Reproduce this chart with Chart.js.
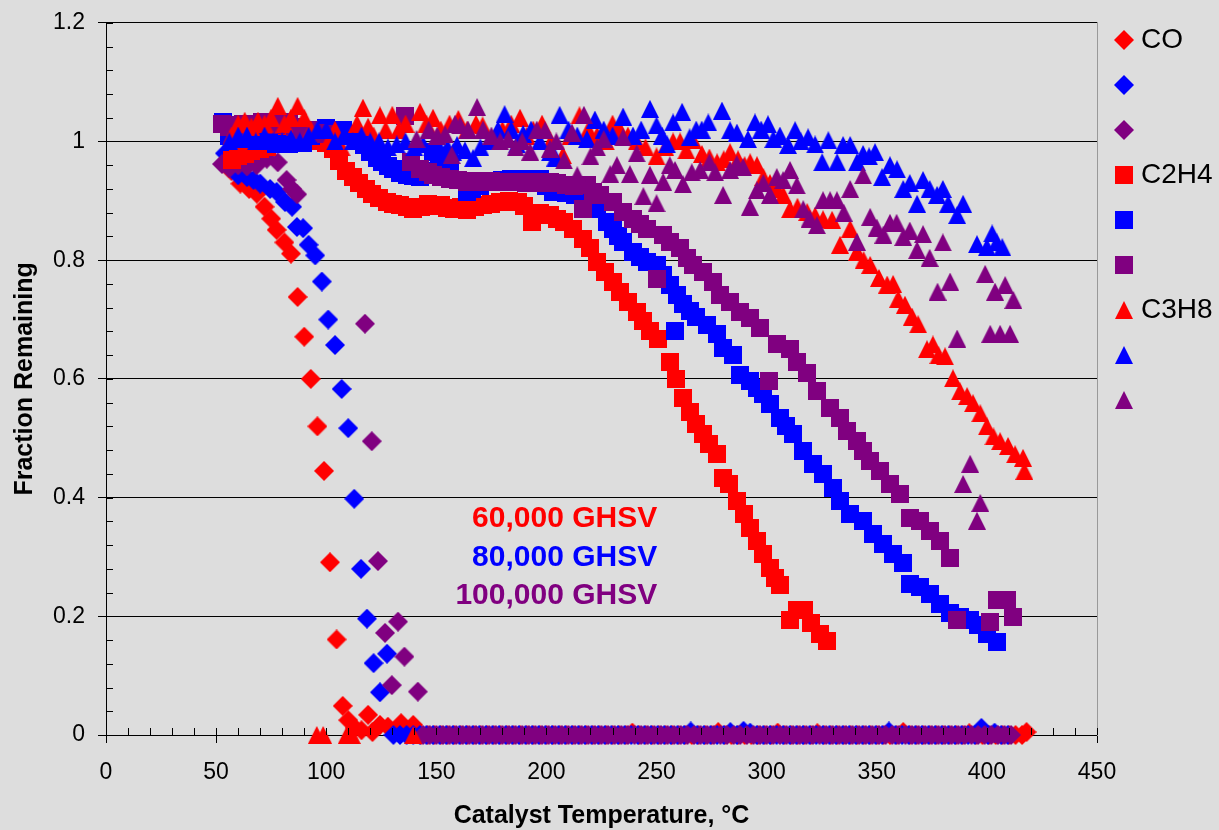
<!DOCTYPE html>
<html>
<head>
<meta charset="utf-8">
<script src="https://cdn.jsdelivr.net/npm/chart.js@4.4.1/dist/chart.umd.min.js"></script>
<style>
  html, body { margin: 0; padding: 0; background: #dddddd; }
  #wrap { width: 1219px; height: 830px; }
</style>
</head>
<body>
<div id="wrap"><canvas id="chart" width="1219" height="830"></canvas></div>
<script>
// axis ticks
const xTicks = [0, 50, 100, 150, 200, 250, 300, 350, 400, 450];
const yTicks = [0, 0.2, 0.4, 0.6, 0.8, 1, 1.2];

// legend text, one per series (only the first of each gas is named)
const seriesLabels = ['CO', '', '', 'C2H4', '', '', 'C3H8', '', ''];
const ghsvLabels = ['60,000 GHSV', '80,000 GHSV', '100,000 GHSV'];

// [temperature °C, fraction remaining]
const co60 = [
  [57,0.95],[61,0.929],[65,0.92],[68.5,0.912],[72,0.89],[75,0.87],[77.5,0.851],[81,0.83],[84,0.811],
  [87,0.738],[90,0.671],[93,0.6],[96,0.52],[99,0.445],[101.7,0.291],[104.7,0.161],[107.5,0.049],
  [110,0.025],[113,0.012],[116,0.008],[119,0.034],[121,0.005],[124.4,0.017],[128,0.014],[131,0.006],
  [134,0.02],[137,0.008],[139.5,0.017],
  [143,0],[146,0],[149,0],[152,0],[155,0],[158,0],[161,0],[164,0],[167,0],[170,0],[173,0],[176,0],
  [179,0],[182,0],[185,0],[188,0],[191,0],[194,0],[197,0],[200,0],[203,0],[206,0],[209,0],[212,0],
  [215,0],[218,0],[221,0],[224,0],[227,0],[230,0],[233,0],[236,0],[239,0.004],[242,0],[245,0],[248,0],
  [251,0],[254,0],[257,0],[260,0],[263,0],[266,0],[269,0],[272,0],[275,0],[278,0.005],[281,0],[284,0],
  [287,0],[290,0],[293,0],[296,0],[299,0],[302,0],[305,0.004],[308,0],[311,0],[314,0],[317,0],[320,0],
  [323,0.003],[326,0],[329,0],[332,0],[335,0],[338,0],[341,0],[344,0],[347,0],[350,0],[353,0],[356,0],
  [359,0],[362,0.005],[365,0],[368,0],[371,0],[374,0],[377,0],[380,0],[383,0],[386,0],[389,0],[392,0.003],
  [395,0],[398,0],[401,0],[404,0],[407,0],[410,0],[413,0],[416,0],[418,0.005]
];
const co80 = [
  [54,0.98],[57,0.96],[60,0.943],[64,0.94],[67,0.935],[70,0.929],[74.5,0.92],[77.5,0.915],[81.3,0.898],
  [84.5,0.89],[86.7,0.856],[89.5,0.854],[92,0.826],[95,0.808],[98,0.764],[100.9,0.7],[104,0.657],
  [107,0.583],[110,0.517],[112.7,0.398],[115.8,0.28],[118.5,0.196],[121.5,0.121],[124.4,0.072],[127.6,0.137],
  [130.5,0],[133.5,0],[136.5,0],[139.5,0],[142.5,0],[145.5,0],[148.5,0],[151.5,0],[154.5,0],[157.5,0],
  [160.5,0],[163.5,0],[166.5,0],[169.5,0],[172.5,0],[175.5,0],[178.5,0],[181.5,0],[184.5,0],[187.5,0],
  [190.5,0],[193.5,0],[196.5,0],[199.5,0],[202.5,0],[205.5,0],[208.5,0],[211.5,0],[214.5,0],[217.5,0],
  [220.5,0],[223.5,0],[226.5,0],[229.5,0],[232.5,0],[235.5,0],[238.5,0],[241.5,0],[244.5,0],[247.5,0],
  [250.5,0],[253.5,0],[256.5,0],[259.5,0],[262.5,0],[265.5,0.006],[268.5,0],[271.5,0],[274.5,0],[277.5,0],
  [280.5,0],[283.5,0.005],[286.5,0],[289.5,0.007],[292.5,0.004],[295.5,0],[298.5,0],[301.5,0],[304.5,0],
  [307.5,0],[310.5,0],[313.5,0],[316.5,0],[319.5,0],[322.5,0],[325.5,0],[328.5,0],[331.5,0],[334.5,0],
  [337.5,0],[340.5,0],[343.5,0],[346.5,0],[349.5,0],[352.5,0],[355.5,0.006],[358.5,0],[361.5,0],[364.5,0],
  [367.5,0],[370.5,0],[373.5,0],[376.5,0],[379.5,0],[382.5,0],[385.5,0],[388.5,0],[391.5,0],[394.5,0],
  [397.5,0.012],[400.5,0],[403.5,0.004],[406.5,0],[409.5,0]
];
const co100 = [
  [52.7,0.962],[56,0.955],[60,0.96],[64,0.958],[68.4,0.96],[73,0.971],[78,0.965],[82,0.935],[84.5,0.92],
  [86.8,0.911],[117.6,0.693],[120.7,0.495],[123.5,0.293],[126.7,0.172],[129.8,0.084],[132.6,0.191],
  [135.5,0.132],[141.6,0.073],
  [144,0],[147,0],[150,0],[153,0],[156,0],[159,0],[162,0],[165,0],[168,0],[171,0],[174,0],[177,0],
  [180,0],[183,0],[186,0],[189,0],[192,0],[195,0],[198,0],[201,0],[204,0],[207,0],[210,0],[213,0],
  [216,0],[219,0],[222,0],[225,0],[228,0],[231,0],[234,0],[237,0],[240,0],[243,0],[246,0],[249,0],
  [252,0],[255,0],[258,0],[261,0],[264,0],[267,0],[270,0],[273,0],[276,0],[279,0],[282,0],[285,0],
  [288,0],[291,0],[294,0],[297,0],[300,0],[303,0],[306,0],[309,0],[312,0],[315,0],[318,0],[321,0],
  [324,0],[327,0],[330,0],[333,0],[336,0],[339,0],[342,0],[345,0],[348,0],[351,0],[354,0],[357,0],
  [360,0],[363,0],[366,0],[369,0],[372,0],[375,0],[378,0],[381,0],[384,0],[387,0],[390,0],[393,0],
  [396,0],[399,0],[402,0],[405,0],[408,0],[411,0]
];

const c2h4_60 = [
  [57,0.968],[60,0.975],[63,0.979],[66,0.984],[70,0.987],[73,0.99],[76,0.995],[79,1.0],[82,1.0],[85,1.0],
  [88,1.002],[91,1.0],[94,1.0],[97,1.0],[100,0.997],[103,0.987],[106,0.967],[109,0.95],[112,0.94],
  [115,0.93],[118,0.92],[121,0.911],[124,0.904],[127.5,0.898],[130.5,0.895],[133.5,0.893],[136.5,0.889],
  [139.5,0.887],[143,0.89],[146,0.894],[149,0.891],[152,0.893],[155,0.888],[158,0.886],[161,0.889],
  [164,0.885],[167.5,0.889],[171,0.893],[175,0.895],[179,0.898],[183,0.9],[187,0.898],[190,0.892],
  [193.5,0.864],[197,0.88],[201.5,0.876],[205,0.87],[208,0.864],[212,0.853],[216.5,0.836],[220,0.82],
  [223,0.797],[226.5,0.78],[230,0.763],[233.5,0.747],[237,0.73],[241,0.713],[244,0.697],[247,0.68],
  [250.5,0.667],[256,0.629],[259,0.6],[262,0.567],[265,0.545],[268,0.524],[271,0.507],[274,0.49],
  [277.5,0.473],[280,0.433],[283,0.423],[286.5,0.394],[289.5,0.373],[292.5,0.349],[295.5,0.327],
  [298.5,0.305],[301.5,0.282],[304,0.265],[306,0.252],[310.5,0.193],[313.8,0.21],[317,0.21],[320,0.188],
  [324,0.17],[327.5,0.159]
];
const c2h4_80 = [
  [53,1.032],[56,1.01],[59,1.005],[62,1.005],[65,1.008],[68,1.005],[71,1.0],[74,1.0],[77,0.995],[80,0.995],
  [83,0.995],[86,0.997],[89.5,0.998],[93,1.01],[96.5,1.02],[100,1.022],[104,1.02],[107.5,1.02],[111,1.012],
  [114,1.004],[117,0.994],[120,0.982],[123,0.972],[125.5,0.965],[128,0.958],[130.5,0.953],[133.5,0.947],
  [136.5,0.943],[139.5,0.941],[142.5,0.94],[145.5,0.95],[148.5,0.982],[151,0.975],[153,0.97],[156,0.955],
  [160,0.935],[163.8,0.915],[166,0.92],[170,0.925],[175.5,0.932],[180,0.935],[184,0.937],[188,0.937],
  [192,0.937],[197,0.937],[200,0.925],[203,0.915],[206,0.915],[209,0.914],[213,0.91],[216.5,0.903],
  [220,0.891],[223,0.886],[227.5,0.864],[230,0.853],[232.5,0.84],[234.8,0.831],[239.3,0.814],[242.5,0.805],
  [245.7,0.797],[250,0.792],[253,0.775],[256,0.758],[258.5,0.681],[259.5,0.742],[262,0.727],[265,0.715],
  [268,0.704],[272.8,0.691],[277.4,0.675],[280.3,0.652],[284.7,0.641],[288,0.607],[292.4,0.596],
  [295.5,0.585],[298.4,0.574],[301.5,0.557],[306,0.534],[309,0.52],[312,0.507],[316.5,0.478],[321,0.457],
  [325.6,0.44],[330,0.417],[333.3,0.394],[337.9,0.373],[343.8,0.361],[348.3,0.339],[352.9,0.322],
  [357.4,0.305],[362,0.289],[365,0.255],[369.7,0.249],[374,0.238],[378.7,0.221],[383.3,0.205],[388,0.198],
  [392.4,0.193],[396,0.185],[400,0.171],[404.6,0.156]
];
const c2h4_100 = [
  [52.7,1.03],[56,1.025],[59,1.028],[62,1.03],[65,1.027],[68,1.03],[71,1.032],[74,1.03],[77,1.028],
  [80,1.032],[83,1.03],[86,1.025],[89,1.02],[92,1.02],[96,1.015],[100,1.012],[135.8,1.043],[138.5,0.965],
  [142.5,0.953],[146,0.948],[148.5,0.943],[152,0.94],[156,0.937],[160,0.935],[164,0.932],[168,0.933],
  [171,0.932],[175,0.933],[179,0.932],[183,0.931],[187,0.932],[190.5,0.93],[194,0.932],[198,0.93],
  [201.6,0.932],[205,0.93],[209,0.926],[212.5,0.925],[216.6,0.886],[218.5,0.926],[221,0.915],[224.3,0.909],
  [230,0.898],[234.8,0.881],[239.3,0.869],[242.5,0.861],[245.7,0.853],[250,0.768],[253,0.843],[256,0.831],
  [260.7,0.82],[263.8,0.803],[266.6,0.792],[271,0.78],[275.7,0.764],[278.8,0.742],[283.4,0.73],[288,0.713],
  [292.4,0.702],[297,0.685],[301,0.596],[304.7,0.658],[310.6,0.651],[313.8,0.629],[318.4,0.61],
  [322.8,0.579],[328.8,0.551],[333.3,0.534],[336.5,0.512],[341,0.495],[343.8,0.478],[347,0.462],
  [351.5,0.445],[356,0.423],[360.6,0.406],[365,0.366],[369.7,0.361],[374,0.344],[378.7,0.327],
  [383.3,0.299],[386.5,0.193],[401.5,0.19],[404.6,0.227],[409,0.227],[412,0.198]
];

const c3h8_60 = [
  [57,1.01],[60,1.03],[63,1.035],[66,1.025],[69,1.035],[72,1.03],[75,1.04],[78,1.06],[81,1.03],[84,1.04],
  [87,1.06],[90,1.04],[93,1.02],[95.7,0],[98.6,0],[101,1.0],[104,1.02],[107,0.99],[109.3,0],[111.6,0],
  [114,1.03],[116.7,1.057],[119,1.025],[121.5,1.01],[124.4,1.044],[127,1.02],[130,1.045],[133,1.02],
  [136,1.03],[139.5,0],[142.6,1.05],[145.5,1.03],[148.5,1.04],[152,1.02],[156,1.03],[160,1.038],
  [164,1.02],[168,1.03],[171,1.027],[175.7,1.004],[180,1.02],[184,1.03],[188,1.04],[191,1.01],[194,1.02],
  [198,1.03],[202,1.0],[207.5,0.977],[211,1.01],[215,1.044],[219,1.02],[223,1.01],[227,1.0],[230,1.03],
  [233.4,1.02],[237,1.01],[241,1.0],[245,0.99],[250,0.975],[254,0.99],[257.5,1.0],[260.7,1.0],
  [263.5,0.985],[266.6,1.002],[270.6,0.979],[274,0.973],[277.5,0.965],[280.5,0.97],[283.4,0.982],
  [287,0.97],[290,0.96],[292.5,0.965],[295.6,0.96],[298.5,0.94],[301.5,0.93],[304.7,0.92],[307.5,0.91],
  [310.6,0.886],[314,0.89],[318.4,0.881],[322,0.875],[325.6,0.869],[329.7,0.868],[333.3,0.826],
  [337.9,0.853],[341,0.814],[344,0.8],[347,0.792],[351,0.77],[354.7,0.759],[357.4,0.76],[359.7,0.735],
  [362.8,0.725],[366,0.705],[368.8,0.692],[372.8,0.65],[375.5,0.658],[378,0.64],[381,0.638],[384.6,0.601],
  [387.8,0.579],[391,0.571],[393.7,0.559],[397,0.542],[400,0.52],[403,0.503],[406,0.495],[409.6,0.487],
  [412.8,0.473],[416.4,0.467],[417,0.445]
];
const c3h8_80 = [
  [56,1.0],[60,1.01],[64,1.01],[68,1.0],[72,1.01],[76,1.0],[80,1.0],[84,1.005],[88,1.0],[92,1.01],
  [96,1.02],[100,1.02],[104,1.0],[108,1.01],[112,1.0],[116,1.01],[120,1.0],[124,1.0],[128,0.99],
  [132,0.995],[136,1.0],[140,0.99],[144,0.995],[148,0.99],[152,0.985],[155,0.99],[157.6,0.982],
  [159.4,0.994],[163,0.985],[166.7,0.972],[170,0.99],[174,1.0],[178,1.02],[181,1.046],[184,1.02],
  [186.6,0.995],[189.4,1.013],[193,1.02],[197,1.0],[201.6,0.982],[204,0.973],[206,1.045],[210,1.02],
  [214,1.01],[218.4,1.004],[222,1.037],[226,1.02],[230,1.01],[234.8,1.042],[239.3,1.01],[243,1.02],
  [247,1.055],[250,1.027],[252.5,1.01],[254.8,0.995],[257.5,1.032],[261.6,1.05],[265,1.007],[268,1.02],
  [270.5,1.02],[273.5,1.032],[279.7,1.052],[283.4,1.019],[286.5,1.015],[291.5,1.004],[294.7,1.032],
  [297.5,1.02],[300.6,1.029],[303,1.004],[306,1.01],[309.7,0.994],[312.9,1.019],[315.5,1.0],[318.8,1.007],
  [322,0.995],[325.2,0.965],[328,1.002],[332,0.965],[334.7,0.994],[337.9,0.994],[341,0.965],[343.8,0.979],
  [346.5,0.975],[349.2,0.982],[352.4,0.94],[356,0.96],[359.2,0.953],[362,0.92],[365,0.93],[368.3,0.895],
  [371,0.935],[374,0.92],[377.4,0.91],[380,0.92],[382.4,0.895],[386.5,0.876],[389.2,0.895],[395.5,0.827],
  [400,0.822],[402.4,0.845],[404.5,0.83],[407,0.822]
];
const c3h8_100 = [
  [141,1.004],[146.5,1.02],[150.4,1.01],[154,1.012],[157,0.977],[158.5,1.03],[160.8,1.027],[164.4,1.02],
  [168.5,1.058],[171.2,1.02],[175,1.01],[179,1.0],[182.6,1.004],[186,0.99],[189,1.0],[192.6,0.983],
  [195.6,1.02],[199.4,1.019],[201.6,0.988],[204.5,1.0],[208,0.968],[211.6,1.015],[214,0.943],[217,1.045],
  [220,0.975],[223,0.99],[226,1.004],[229,0.945],[232,0.96],[234.8,1.007],[237.9,0.945],[241,0.98],
  [244,0.908],[247,0.944],[250,0.896],[253,0.932],[256,0.96],[258.4,0.952],[262,0.928],[266,0.948],
  [269.8,0.952],[274,0.965],[276.6,0.948],[280.2,0.91],[283.4,0.952],[286.4,0.962],[289.3,0.957],
  [292.4,0.89],[295.6,0.918],[298.5,0.93],[301.5,0.91],[304.6,0.94],[307.5,0.935],[310.6,0.952],
  [313.7,0.926],[316.6,0.886],[319.5,0.87],[322.8,0.859],[325.6,0.901],[328.8,0.901],[331.9,0.901],
  [335,0.88],[337.9,0.92],[341,0.831],[343.8,0.943],[347,0.873],[350,0.855],[353,0.843],[356,0.863],
  [359,0.863],[362,0.839],[365,0.85],[368.3,0.817],[371,0.844],[374,0.804],[377.6,0.747],[380,0.83],
  [383.3,0.764],[386.5,0.668],[389.2,0.423],[392.4,0.457],[395.5,0.361],[397,0.391],[399.2,0.777],
  [401.5,0.676],[403.7,0.747],[406,0.676],[408.3,0.758],[410.5,0.676],[412,0.733]
];

const RED = '#ff0000', BLUE = '#0000ff', PURPLE = '#800080';
const FONT = "'Liberation Sans', Arial, sans-serif";

// Excel-like marker shapes as small canvases (used for plot and legend)
function marker(shape, color) {
    const size = shape === 'diamond' ? 20 : 18;
    const c = document.createElement('canvas');
    c.width = size;
    c.height = size;
    const g = c.getContext('2d');
    g.fillStyle = color;
    g.beginPath();
    if (shape === 'diamond') {
        g.moveTo(size / 2, 0); g.lineTo(size, size / 2); g.lineTo(size / 2, size); g.lineTo(0, size / 2);
    } else if (shape === 'square') {
        g.rect(0, 0, size, size);
    } else {
        g.moveTo(size / 2, 0); g.lineTo(size, size); g.lineTo(0, size);
    }
    g.closePath();
    g.fill();
    return c;
}

const seriesData = [co60, co80, co100, c2h4_60, c2h4_80, c2h4_100, c3h8_60, c3h8_80, c3h8_100];
const seriesColors = [RED, BLUE, PURPLE, RED, BLUE, PURPLE, RED, BLUE, PURPLE];
const seriesShapes = ['diamond', 'diamond', 'diamond', 'square', 'square', 'square', 'triangle', 'triangle', 'triangle'];

const datasets = seriesData.map((data, i) => ({
    label: seriesLabels[i],
    data: data,
    pointStyle: marker(seriesShapes[i], seriesColors[i]),
    backgroundColor: seriesColors[i],
    borderColor: seriesColors[i],
    pointRadius: 9,
    pointBorderWidth: 0,
    showLine: false,
    clip: false,
    order: seriesData.length - 1 - i   // later series drawn on top, like Excel
}));

// minor tick marks + GHSV labels
const extras = {
    id: 'extras',
    afterDatasetsDraw(chart) {
        const {ctx, scales: {x, y}} = chart;
        const colors = [RED, BLUE, PURPLE];
        const levels = [0.364, 0.299, 0.235];
        ctx.save();
        ctx.font = 'bold 30px ' + FONT;
        ctx.textAlign = 'right';
        ctx.textBaseline = 'middle';
        ghsvLabels.forEach((t, i) => {
            ctx.fillStyle = colors[i];
            ctx.fillText(t, x.getPixelForValue(250.3), y.getPixelForValue(levels[i]));
        });
        ctx.restore();
    },
    afterDraw(chart) {
        const {ctx, scales: {x, y}} = chart;
        ctx.save();
        ctx.strokeStyle = '#000';
        ctx.lineWidth = 1;
        ctx.beginPath();
        for (let v = 0; v <= 450; v += 10) {
            const px = Math.round(x.getPixelForValue(v)) + 0.5;
            ctx.moveTo(px, y.bottom);
            ctx.lineTo(px, y.bottom - 7);
        }
        for (let k = 0; k <= 30; k++) {
            const py = Math.round(y.getPixelForValue(k * 0.04)) + 0.5;
            ctx.moveTo(x.left, py);
            ctx.lineTo(x.left + 7, py);
        }
        ctx.stroke();
        ctx.restore();
    }
};

new Chart(document.getElementById('chart'), {
    type: 'scatter',
    data: { datasets: datasets },
    options: {
        responsive: false,
        animation: false,
        devicePixelRatio: 1,
        layout: { padding: { top: 9, right: 0, bottom: 0, left: 0 } },
        plugins: {
            tooltip: { enabled: false },
            legend: {
                position: 'right',
                align: 'start',
                maxWidth: 115,
                labels: {
                    usePointStyle: true,
                    boxWidth: 6,
                    boxHeight: 13,
                    padding: 17,
                    color: '#000',
                    font: { family: FONT, size: 28 },
                    sort: (a, b) => a.datasetIndex - b.datasetIndex
                }
            }
        },
        scales: {
            x: {
                type: 'linear',
                position: 'bottom',
                min: 0,
                max: 450,
                afterBuildTicks: s => { s.ticks = xTicks.map(v => ({ value: v })); },
                afterFit: s => { s.height = 95; },
                ticks: {
                    color: '#000',
                    padding: 16,
                    font: { family: FONT, size: 23 },
                    callback: v => String(v)
                },
                grid: { drawOnChartArea: false, color: '#000', tickLength: 8 },
                border: { color: '#000', width: 1 },
                title: {
                    display: true,
                    text: 'Catalyst Temperature, °C',
                    color: '#000',
                    font: { family: FONT, size: 25, weight: 'bold', lineHeight: 1 },
                    padding: { top: 0, bottom: 1 }
                }
            },
            y: {
                type: 'linear',
                min: 0,
                max: 1.2,
                afterBuildTicks: s => { s.ticks = yTicks.map(v => ({ value: v })); },
                afterFit: s => { s.width = 106; },
                ticks: {
                    color: '#000',
                    padding: 13,
                    font: { family: FONT, size: 23, lineHeight: 0.85 },
                    callback: v => String(v)
                },
                grid: { color: '#000', lineWidth: 1, tickLength: 8 },
                border: { color: '#000', width: 1 },
                title: {
                    display: true,
                    text: 'Fraction Remaining',
                    color: '#000',
                    font: { family: FONT, size: 25, weight: 'bold', lineHeight: 1.2 },
                    padding: { top: 10, bottom: 0 }
                }
            },
            y2: {
                type: 'linear',
                position: 'right',
                min: 0,
                max: 1.2,
                afterFit: s => { s.width = 7; },
                ticks: { display: false },
                grid: { drawOnChartArea: false, drawTicks: false },
                border: { color: '#999999', width: 1 }
            }
        }
    },
    plugins: [extras]
});
</script>
</body>
</html>
